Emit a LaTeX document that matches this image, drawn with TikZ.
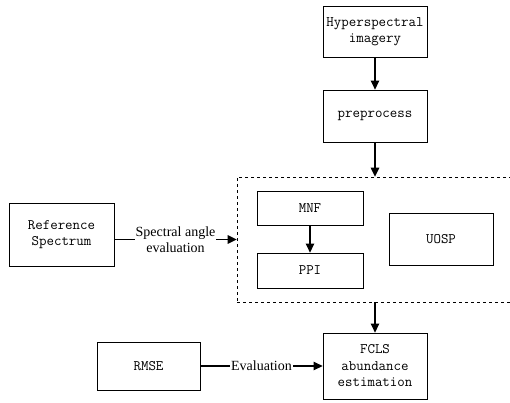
\documentclass[tikz,border=0pt]{standalone}
\usepackage{fontspec}
\setmonofont{Latin Modern Mono}
\newfontfamily\lblfont{Liberation Serif}
\usetikzlibrary{arrows.meta}
\begin{document}
\begin{tikzpicture}[x=1pt,y=-1pt,
  box/.style={draw,line width=0.8pt,inner sep=0pt,align=center,font=\fontsize{14.5}{16.5}\selectfont\ttfamily},
  conn/.style={line width=1.1pt,-{Triangle[length=9pt,width=8.5pt]}},
  lbl/.style={fill=white,inner sep=1pt,align=center,font=\fontsize{14}{16}\selectfont\lblfont}]
\useasboundingbox (0,0) rectangle (510,403);
\clip (0,0) rectangle (510,403);
\node[box,minimum width=104pt,minimum height=51pt] (hyp) at (375,31.5) {Hyperspectral\\imagery};
\node[box,minimum width=104pt,minimum height=52pt] (pre) at (375,116) {preprocess};
\node[draw,dashed,line width=0.6pt,minimum width=303pt,minimum height=125pt,inner sep=0pt] (grp) at (388.5,239.5) {};
\node[box,minimum width=106pt,minimum height=34pt] (mnf) at (310,208) {MNF};
\node[box,minimum width=106pt,minimum height=35pt] (ppi) at (310,270.5) {PPI};
\node[box,minimum width=104pt,minimum height=52pt] (uosp) at (441,239) {UOSP};
\node[box,minimum width=105pt,minimum height=63pt] (ref) at (61.5,234.5) {Reference\\Spectrum};
\node[box,minimum width=104pt,minimum height=66pt] (fcls) at (375,366) {FCLS\\abundance\\estimation};
\node[box,minimum width=103pt,minimum height=48pt] (rmse) at (148.5,366) {RMSE};
\draw[conn] (hyp) -- (pre);
\draw[conn] (pre) -- (pre |- grp.north);
\draw[conn] (mnf) -- (ppi);
\draw[conn] (fcls |- grp.south) -- (fcls);
\draw[conn] (ref.east |- 0,239.5) -- node[lbl] {Spectral angle\\evaluation} (grp.west);
\draw[conn] (rmse) -- node[lbl] {Evaluation} (fcls);
\end{tikzpicture}
\end{document}
